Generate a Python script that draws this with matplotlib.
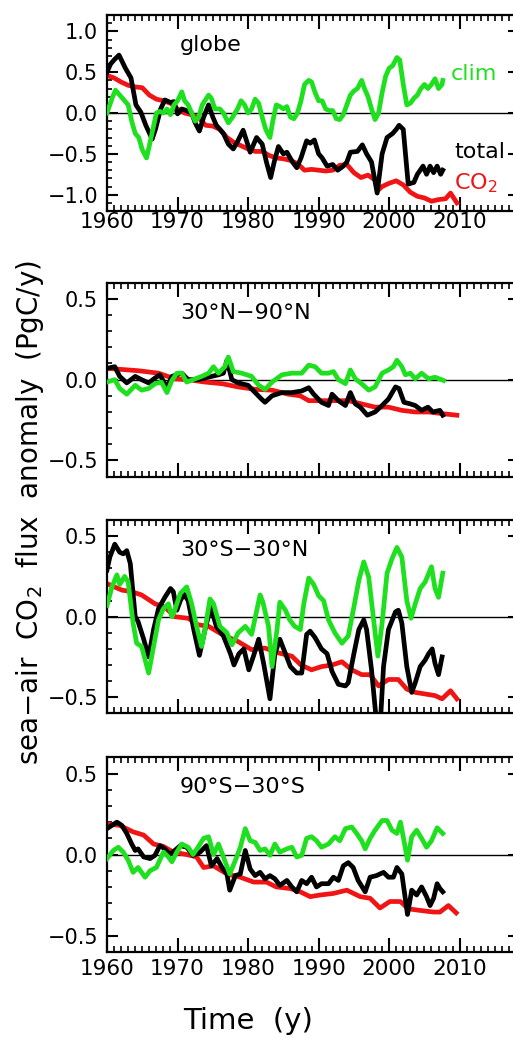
import numpy as np
import matplotlib.pyplot as plt
from matplotlib.ticker import MultipleLocator

# ---- data (year, PgC/y) ----
globe_tot_t = [1960.0, 1960.5, 1961.0, 1961.7, 1962.6, 1963.4, 1964.1, 1964.8, 1965.5, 1966.4,
               1966.9, 1967.6, 1968.2, 1969.0, 1969.5, 1970.0, 1970.6, 1971.3, 1972.0, 1972.5,
               1973.1, 1973.7, 1974.4, 1975.0, 1975.5, 1976.5, 1977.2, 1977.9, 1978.5, 1979.3,
               1980.3, 1981.2, 1982.0, 1982.6, 1983.2, 1983.7, 1984.3, 1985.0, 1985.5, 1986.3,
               1986.9, 1987.5, 1988.3, 1988.8, 1989.4, 1990.0, 1990.5, 1991.2, 1992.0, 1992.7,
               1993.5, 1994.0, 1994.5, 1995.5, 1996.2, 1996.8, 1997.5, 1998.3, 1999.0, 1999.7,
               2000.5, 2001.0, 2001.4, 2002.0, 2002.7, 2003.5, 2004.0, 2004.8, 2005.3, 2005.8,
               2006.3, 2006.8, 2007.3, 2007.6]
globe_tot = [0.5, 0.6, 0.65, 0.71, 0.55, 0.43, 0.1, 0.01, -0.15, -0.32,
             -0.19, 0.05, 0.16, 0.13, 0.14, -0.01, 0.05, 0.03, 0.0, -0.12,
             -0.22, -0.05, 0.1, -0.05, -0.15, -0.25, -0.38, -0.44, -0.35, -0.21,
             -0.48, -0.30, -0.38, -0.6, -0.79, -0.6, -0.41, -0.5, -0.48, -0.6,
             -0.67, -0.55, -0.34, -0.37, -0.33, -0.5, -0.55, -0.65, -0.63, -0.7,
             -0.65, -0.6, -0.48, -0.47, -0.39, -0.5, -0.6, -0.98, -0.5, -0.3,
             -0.25, -0.2, -0.15, -0.2, -0.87, -0.85, -0.75, -0.65, -0.75, -0.65,
             -0.73, -0.65, -0.75, -0.7]
globe_clim_t = [1960.0, 1960.8, 1961.2, 1962.0, 1962.5, 1963.0, 1963.5, 1964.0, 1964.5, 1965.0,
                1965.6, 1966.0, 1966.5, 1967.0, 1967.5, 1968.0, 1968.5, 1969.0, 1969.5, 1970.0,
                1970.6, 1971.0, 1971.5, 1972.0, 1972.5, 1973.0, 1973.5, 1974.4, 1974.8, 1975.3,
                1976.0, 1976.5, 1977.2, 1977.8, 1978.5, 1979.0, 1979.5, 1980.0, 1980.5, 1981.0,
                1981.5, 1982.0, 1982.5, 1983.1, 1983.5, 1984.0, 1984.5, 1985.0, 1985.5, 1986.0,
                1986.5, 1987.0, 1987.5, 1988.0, 1988.6, 1989.0, 1989.5, 1990.0, 1990.5, 1991.0,
                1991.5, 1992.0, 1992.5, 1993.0, 1993.5, 1994.0, 1994.5, 1995.0, 1995.5, 1996.1,
                1996.5, 1997.0, 1997.5, 1998.0, 1998.5, 1999.0, 1999.5, 2000.0, 2000.5, 2001.1,
                2001.5, 2002.0, 2002.5, 2003.0, 2003.5, 2004.0, 2004.5, 2005.0, 2005.5, 2006.0,
                2006.5, 2007.0, 2007.5, 2007.6]
globe_clim = [0.0, 0.2, 0.28, 0.2, 0.15, 0.1, -0.1, -0.25, -0.3, -0.45,
              -0.55, -0.4, -0.2, 0.0, 0.02, 0.0, 0.05, -0.02, 0.1, 0.15,
              0.26, 0.15, 0.1, 0.0, -0.1, -0.05, 0.1, 0.22, 0.18, 0.05,
              0.05, 0.0, -0.12, -0.05, 0.05, 0.15, 0.1, 0.0, 0.05, 0.17,
              0.12, -0.05, -0.2, -0.3, -0.1, 0.1, 0.08, 0.05, 0.08, -0.05,
              -0.07, 0.0, 0.15, 0.35, 0.4, 0.38, 0.25, 0.15, 0.15, 0.05,
              0.03, 0.03, -0.07, -0.08, -0.02, 0.1, 0.22, 0.27, 0.3, 0.4,
              0.3, 0.2, 0.05, -0.08, 0.0, 0.25, 0.45, 0.55, 0.58, 0.68,
              0.65, 0.35, 0.1, 0.12, 0.18, 0.22, 0.3, 0.35, 0.3, 0.35,
              0.42, 0.3, 0.35, 0.4]
globe_co2_t = [1960.0, 1961.0, 1962.0, 1963.0, 1964.0, 1965.0, 1966.0, 1967.0, 1968.0, 1969.0,
               1970.0, 1971.0, 1972.0, 1973.0, 1974.0, 1975.0, 1976.0, 1977.0, 1978.0, 1979.0,
               1980.0, 1981.0, 1982.0, 1983.0, 1984.0, 1985.0, 1986.0, 1987.0, 1988.0, 1989.0,
               1990.0, 1991.0, 1992.0, 1993.0, 1994.0, 1995.0, 1996.0, 1997.0, 1998.0, 1998.5,
               1999.0, 2000.0, 2001.0, 2002.0, 2003.0, 2004.0, 2005.0, 2006.0, 2007.0, 2008.0,
               2008.7, 2009.6]
globe_co2 = [0.46, 0.43, 0.38, 0.34, 0.32, 0.31, 0.22, 0.17, 0.15, 0.12,
             0.05, 0.0, -0.02, -0.06, -0.15, -0.16, -0.2, -0.3, -0.36, -0.4,
             -0.44, -0.47, -0.47, -0.52, -0.55, -0.56, -0.58, -0.62, -0.7, -0.69,
             -0.7, -0.71, -0.7, -0.64, -0.63, -0.73, -0.79, -0.76, -0.82, -0.94,
             -0.9, -0.86, -0.83, -0.88, -0.97, -1.02, -1.04, -1.08, -1.06, -1.05,
             -0.98, -1.1]

nh_tot_t = [1960.0, 1961.1, 1961.8, 1962.8, 1964.0, 1964.9, 1965.9, 1966.8, 1967.5, 1968.5,
            1969.2, 1970.6, 1971.5, 1972.9, 1973.9, 1974.8, 1975.8, 1976.5, 1977.0, 1977.7,
            1978.6, 1980.0, 1981.0, 1981.9, 1982.4, 1983.4, 1984.8, 1986.2, 1987.6, 1988.6,
            1989.3, 1990.4, 1991.4, 1991.9, 1992.8, 1993.8, 1994.5, 1995.2, 1995.9, 1996.9,
            1998.0, 1999.0, 1999.9, 2000.9, 2001.4, 2002.1, 2003.0, 2003.7, 2004.6, 2005.5,
            2006.2, 2007.2, 2007.6]
nh_tot = [0.07, 0.08, 0.02, -0.02, 0.02, 0.0, -0.02, 0.01, 0.03, -0.05,
          0.02, 0.04, 0.0, 0.0, 0.01, 0.02, 0.03, 0.04, 0.12, 0.0,
          -0.02, -0.035, -0.08, -0.12, -0.14, -0.1, -0.08, -0.08, -0.07, -0.05,
          -0.09, -0.14, -0.16, -0.09, -0.13, -0.16, -0.08, -0.15, -0.17, -0.22,
          -0.2, -0.16, -0.12, -0.045, -0.055, -0.14, -0.15, -0.16, -0.19, -0.17,
          -0.2, -0.19, -0.22]
nh_clim_t = [1960.0, 1961.1, 1961.8, 1962.8, 1964.0, 1964.9, 1965.9, 1966.8, 1967.7, 1968.5,
             1969.2, 1969.9, 1970.6, 1971.3, 1972.2, 1973.4, 1974.4, 1975.1, 1975.8, 1976.7,
             1977.2, 1977.9, 1979.1, 1980.5, 1981.5, 1982.4, 1983.4, 1984.8, 1986.2, 1987.6,
             1988.6, 1989.5, 1990.4, 1991.4, 1992.1, 1992.8, 1993.8, 1994.5, 1995.2, 1996.1,
             1997.1, 1998.0, 1999.0, 1999.9, 2000.6, 2001.1, 2001.8, 2002.3, 2003.0, 2003.7,
             2004.6, 2005.6, 2006.5, 2007.7]
nh_clim = [-0.015, 0.0, -0.055, -0.09, -0.035, -0.065, -0.055, -0.025, -0.015, -0.08,
           -0.005, 0.04, 0.04, -0.015, 0.0, 0.02, 0.04, 0.08, 0.04, 0.08,
           0.14, 0.05, 0.04, 0.02, -0.035, -0.06, -0.015, 0.03, 0.04, 0.04,
           0.09, 0.08, 0.04, 0.04, 0.05, 0.0, -0.025, 0.06, 0.005, -0.025,
           -0.065, -0.045, 0.04, 0.06, 0.08, 0.12, 0.08, 0.03, 0.04, 0.005,
           0.04, 0.005, 0.015, -0.005]
nh_co2_t = [1960.0, 1964.5, 1967.3, 1969.6, 1971.5, 1973.9, 1976.3, 1978.6, 1981.0, 1983.4,
            1985.7, 1987.4, 1988.6, 1990.4, 1992.3, 1994.2, 1996.1, 1998.0, 1999.9, 2001.8,
            2003.7, 2005.6, 2007.5, 2009.6]
nh_co2 = [0.07, 0.055, 0.04, 0.005, 0.0, -0.015, -0.025, -0.045, -0.06, -0.065,
          -0.09, -0.1, -0.13, -0.13, -0.13, -0.13, -0.15, -0.17, -0.17, -0.19,
          -0.2, -0.2, -0.21, -0.22]

tr_tot_t = [1960.0, 1960.4, 1961.1, 1961.8, 1962.3, 1962.8, 1963.3, 1964.0, 1964.4, 1965.2,
            1965.9, 1966.6, 1967.3, 1968.2, 1969.0, 1969.4, 1969.9, 1970.4, 1970.9, 1971.5,
            1972.3, 1973.1, 1973.9, 1974.7, 1975.5, 1976.5, 1977.5, 1978.0, 1978.7, 1979.4,
            1980.1, 1980.8, 1981.5, 1982.2, 1983.1, 1983.8, 1984.5, 1985.3, 1986.0, 1986.9,
            1987.6, 1988.3, 1988.8, 1989.5, 1990.4, 1991.2, 1991.9, 1992.8, 1993.8, 1994.2,
            1995.0, 1995.7, 1996.4, 1996.8, 1997.5, 1998.3, 1998.7, 1999.2, 1999.9, 2000.9,
            2001.3, 2001.8, 2002.5, 2003.2, 2003.7, 2004.4, 2005.1, 2005.6, 2006.1, 2006.5,
            2007.0, 2007.5]
tr_tot = [0.29, 0.37, 0.45, 0.4, 0.39, 0.41, 0.33, 0.0, -0.03, -0.14,
          -0.25, -0.08, 0.05, 0.12, 0.175, 0.155, 0.04, 0.1, 0.14, 0.1,
          -0.08, -0.24, -0.08, 0.06, -0.06, -0.12, -0.23, -0.3, -0.23, -0.2,
          -0.33, -0.24, -0.14, -0.29, -0.51, -0.23, -0.14, -0.23, -0.31, -0.35,
          -0.35, -0.11, -0.09, -0.13, -0.2, -0.23, -0.34, -0.42, -0.43, -0.41,
          -0.23, -0.08, -0.02, -0.08, -0.33, -0.7, -0.7, -0.31, -0.08, 0.03,
          0.04, -0.04, -0.31, -0.47, -0.41, -0.31, -0.27, -0.23, -0.2, -0.29,
          -0.36, -0.25]
tr_clim_t = [1960.0, 1960.7, 1961.4, 1961.8, 1962.5, 1963.0, 1963.7, 1964.2, 1964.9, 1965.9,
             1966.6, 1967.3, 1968.0, 1968.7, 1969.2, 1969.6, 1970.4, 1971.3, 1972.0, 1972.7,
             1973.4, 1973.9, 1974.6, 1975.1, 1976.0, 1977.0, 1977.7, 1978.6, 1979.6, 1980.5,
             1981.7, 1982.1, 1982.9, 1983.4, 1984.1, 1984.5, 1985.3, 1985.9, 1986.6, 1987.4,
             1987.9, 1988.6, 1989.3, 1990.0, 1990.7, 1991.4, 1992.3, 1993.3, 1994.2, 1995.0,
             1995.7, 1996.4, 1997.1, 1997.8, 1998.4, 1999.0, 1999.7, 2000.4, 2001.1, 2001.8,
             2002.5, 2003.1, 2003.7, 2004.4, 2005.1, 2006.0, 2006.5, 2007.0, 2007.6]
tr_clim = [0.07, 0.185, 0.26, 0.2, 0.25, 0.215, -0.04, -0.165, -0.185, -0.35,
           -0.185, -0.02, 0.05, 0.08, 0.0, 0.04, 0.145, 0.185, 0.08, -0.06,
           -0.185, -0.08, 0.11, 0.08, -0.06, -0.1, -0.175, -0.1, -0.06, -0.11,
           0.135, 0.09, -0.06, -0.31, -0.08, 0.09, 0.04, -0.02, -0.06, -0.08,
           0.08, 0.24, 0.2, 0.13, 0.1, -0.02, -0.1, -0.165, -0.12, 0.06,
           0.225, 0.34, 0.245, -0.02, -0.245, -0.04, 0.27, 0.36, 0.43, 0.37,
           0.1, -0.01, 0.08, 0.175, 0.215, 0.31, 0.175, 0.12, 0.27]
tr_co2_t = [1960.0, 1962.1, 1963.5, 1964.9, 1966.8, 1968.2, 1969.6, 1971.5, 1972.9, 1974.4,
            1976.3, 1978.6, 1980.5, 1982.4, 1984.3, 1986.2, 1987.5, 1989.0, 1990.4, 1991.9,
            1993.3, 1994.7, 1996.1, 1997.3, 1998.5, 1999.9, 2001.3, 2002.5, 2003.7, 2005.1,
            2006.5, 2007.5, 2008.7, 2009.6]
tr_co2 = [0.205, 0.165, 0.155, 0.135, 0.08, 0.06, 0.0, -0.01, -0.05, -0.06,
          -0.11, -0.155, -0.205, -0.195, -0.225, -0.245, -0.3, -0.33, -0.31, -0.3,
          -0.28, -0.33, -0.36, -0.36, -0.43, -0.39, -0.39, -0.45, -0.47, -0.48,
          -0.49, -0.51, -0.46, -0.51]

sh_tot_t = [1960.0, 1960.7, 1961.4, 1962.1, 1962.8, 1963.5, 1964.0, 1964.4, 1965.2, 1966.1,
            1966.8, 1967.5, 1968.2, 1968.9, 1969.6, 1970.4, 1971.3, 1972.2, 1973.2, 1974.1,
            1974.8, 1975.6, 1976.3, 1977.0, 1977.4, 1978.2, 1978.9, 1979.6, 1980.3, 1981.0,
            1981.7, 1982.4, 1983.1, 1983.8, 1984.5, 1985.5, 1986.2, 1986.9, 1987.6, 1988.3,
            1989.0, 1989.7, 1990.4, 1991.4, 1992.1, 1992.8, 1993.5, 1994.2, 1994.9, 1995.6,
            1996.6, 1997.3, 1998.2, 1999.2, 1999.9, 2000.6, 2001.1, 2001.8, 2002.6, 2003.2,
            2003.9, 2004.6, 2005.3, 2005.8, 2006.3, 2006.8, 2007.2, 2007.6]
sh_tot = [0.16, 0.18, 0.2, 0.18, 0.13, 0.065, 0.025, 0.035, -0.015, -0.025,
          -0.005, 0.055, 0.035, 0.0, 0.025, 0.055, 0.045, -0.005, 0.015, 0.055,
          -0.07, -0.025, -0.08, -0.12, -0.22, -0.13, -0.12, 0.025, -0.09, -0.13,
          -0.11, -0.15, -0.13, -0.15, -0.19, -0.16, -0.2, -0.23, -0.16, -0.18,
          -0.14, -0.2, -0.18, -0.18, -0.14, -0.16, -0.07, -0.05, -0.08, -0.16,
          -0.23, -0.14, -0.13, -0.11, -0.14, -0.14, -0.08, -0.12, -0.37, -0.22,
          -0.25, -0.2, -0.26, -0.315, -0.27, -0.18, -0.21, -0.23]
sh_clim_t = [1960.0, 1960.9, 1961.6, 1962.3, 1963.0, 1963.7, 1964.4, 1965.4, 1966.1, 1967.0,
             1968.0, 1968.7, 1969.2, 1969.9, 1970.6, 1971.5, 1972.2, 1972.9, 1973.7, 1974.4,
             1975.1, 1975.8, 1976.5, 1977.4, 1978.2, 1978.9, 1979.6, 1980.3, 1981.0, 1981.7,
             1982.4, 1983.1, 1983.8, 1984.5, 1985.5, 1986.2, 1986.9, 1987.6, 1988.3, 1989.0,
             1989.7, 1990.4, 1991.4, 1992.3, 1993.0, 1993.8, 1994.7, 1995.4, 1996.1, 1996.6,
             1997.3, 1998.0, 1999.0, 1999.7, 2000.4, 2001.1, 2001.6, 2002.1, 2002.6, 2003.2,
             2003.9, 2004.6, 2005.3, 2006.0, 2006.8, 2007.6]
sh_clim = [-0.025, 0.025, 0.045, 0.015, -0.035, -0.11, -0.08, -0.14, -0.1, -0.08,
           0.015, -0.015, -0.045, 0.015, 0.065, 0.045, 0.0, 0.045, 0.1, 0.11,
           0.0, 0.065, -0.015, -0.12, -0.035, 0.045, 0.16, 0.085, 0.075, 0.025,
           0.035, -0.005, 0.065, 0.015, 0.035, 0.045, -0.015, -0.005, 0.1, 0.11,
           0.085, 0.045, 0.065, 0.11, 0.085, 0.16, 0.17, 0.13, 0.085, 0.035,
           0.1, 0.15, 0.21, 0.21, 0.15, 0.13, 0.2, 0.085, -0.035, 0.11,
           0.15, 0.1, 0.045, 0.085, 0.165, 0.13]
sh_co2_t = [1960.0, 1961.8, 1963.7, 1965.2, 1966.6, 1968.0, 1969.4, 1971.3, 1972.7, 1973.7,
            1975.1, 1977.0, 1978.9, 1980.8, 1982.6, 1984.0, 1986.0, 1987.4, 1988.8, 1990.2,
            1992.1, 1994.0, 1995.9, 1997.3, 1998.7, 2000.1, 2001.6, 2002.7, 2004.4, 2006.3,
            2007.2, 2008.4, 2009.5]
sh_co2 = [0.19, 0.18, 0.14, 0.12, 0.065, 0.05, 0.015, 0.0, -0.015, -0.08,
          -0.07, -0.12, -0.14, -0.17, -0.17, -0.2, -0.21, -0.23, -0.26, -0.25,
          -0.24, -0.22, -0.26, -0.27, -0.33, -0.29, -0.29, -0.335, -0.345, -0.355,
          -0.355, -0.315, -0.36]

region_names = ["globe", "30°N−90°N", "30°S−30°N", "90°S−30°S"]
ylims = [1.2, 0.6, 0.6, 0.6]

plt.rcParams.update({"font.family": "DejaVu Sans", "mathtext.default": "regular"})
GREEN = "#1ee01e"
RED = "#f01414"

fig = plt.figure(figsize=(5.13, 10.38), dpi=100)
# axes boxes in figure fraction (the right spine sits just outside the picture)
boxes = [(0.2086, 0.7967, 0.803, 0.1888),
         (0.2086, 0.5408, 0.803, 0.1869),
         (0.2086, 0.3128, 0.803, 0.1862),
         (0.2086, 0.0831, 0.803, 0.1873)]

series = [(globe_co2_t, globe_co2, globe_tot_t, globe_tot, globe_clim_t, globe_clim),
          (nh_co2_t, nh_co2, nh_tot_t, nh_tot, nh_clim_t, nh_clim),
          (tr_co2_t, tr_co2, tr_tot_t, tr_tot, tr_clim_t, tr_clim),
          (sh_co2_t, sh_co2, sh_tot_t, sh_tot, sh_clim_t, sh_clim)]

for i, (box, s, nama, lim) in enumerate(zip(boxes, series, region_names, ylims)):
    ax = fig.add_axes(box)
    ax.axhline(0, color="black", lw=1.0, zorder=1)
    ax.plot(s[0], s[1], color=RED, lw=3.4, solid_joinstyle="round", zorder=2)
    ax.plot(s[2], s[3], color="black", lw=3.4, solid_joinstyle="round", zorder=3)
    ax.plot(s[4], s[5], color=GREEN, lw=3.4, solid_joinstyle="round", zorder=4)
    ax.set_xlim(1960, 2018.4)
    ax.set_ylim(-lim, lim)
    ax.xaxis.set_major_locator(MultipleLocator(10))
    ax.xaxis.set_minor_locator(MultipleLocator(1))
    ax.yaxis.set_major_locator(MultipleLocator(0.5))
    ax.yaxis.set_minor_locator(MultipleLocator(0.1))
    ax.yaxis.set_major_formatter(plt.FuncFormatter(lambda v, p: f"{v:.1f}".replace("-", "\u2212")))
    for sp in ax.spines.values():
        sp.set_linewidth(1.6)
    ax.tick_params(which="both", direction="in", top=True, right=True, width=1.5)
    ax.tick_params(axis="x", which="major", length=10)
    ax.tick_params(axis="x", which="minor", length=4.5, width=1.2)
    ax.tick_params(axis="y", which="major", length=8, labelsize=15, pad=6.5)
    ax.tick_params(axis="y", which="minor", length=3.8, width=1.2)
    if i == 0:
        ax.tick_params(axis="x", labelsize=15.5, pad=0.5)
    elif i == 3:
        ax.tick_params(axis="x", labelsize=15.5, pad=5)
    else:
        ax.tick_params(axis="x", labelbottom=False)
    ax.text(1970.35, lim * 0.69, nama, fontsize=16, va="center", ha="left")

    if i == 0:
        ax.text(2008.7, 0.48, "clim", color=GREEN, fontsize=16, va="center", ha="left")
        ax.text(2009.2, -0.48, "total", color="black", fontsize=16, va="center", ha="left")
        ax.text(2009.2, -0.86, "CO$_2$", color=RED, fontsize=16, va="center", ha="left")

fig.text(0.058, 0.5067, "sea\u2212air  CO$_2$  flux  anomaly  (PgC/y)", rotation=90,
         fontsize=20, ha="center", va="center")
fig.text(248 / 513, 1 - 1021 / 1038, "Time  (y)", fontsize=21, ha="center", va="center")

fig.savefig("out.png", dpi=100)
